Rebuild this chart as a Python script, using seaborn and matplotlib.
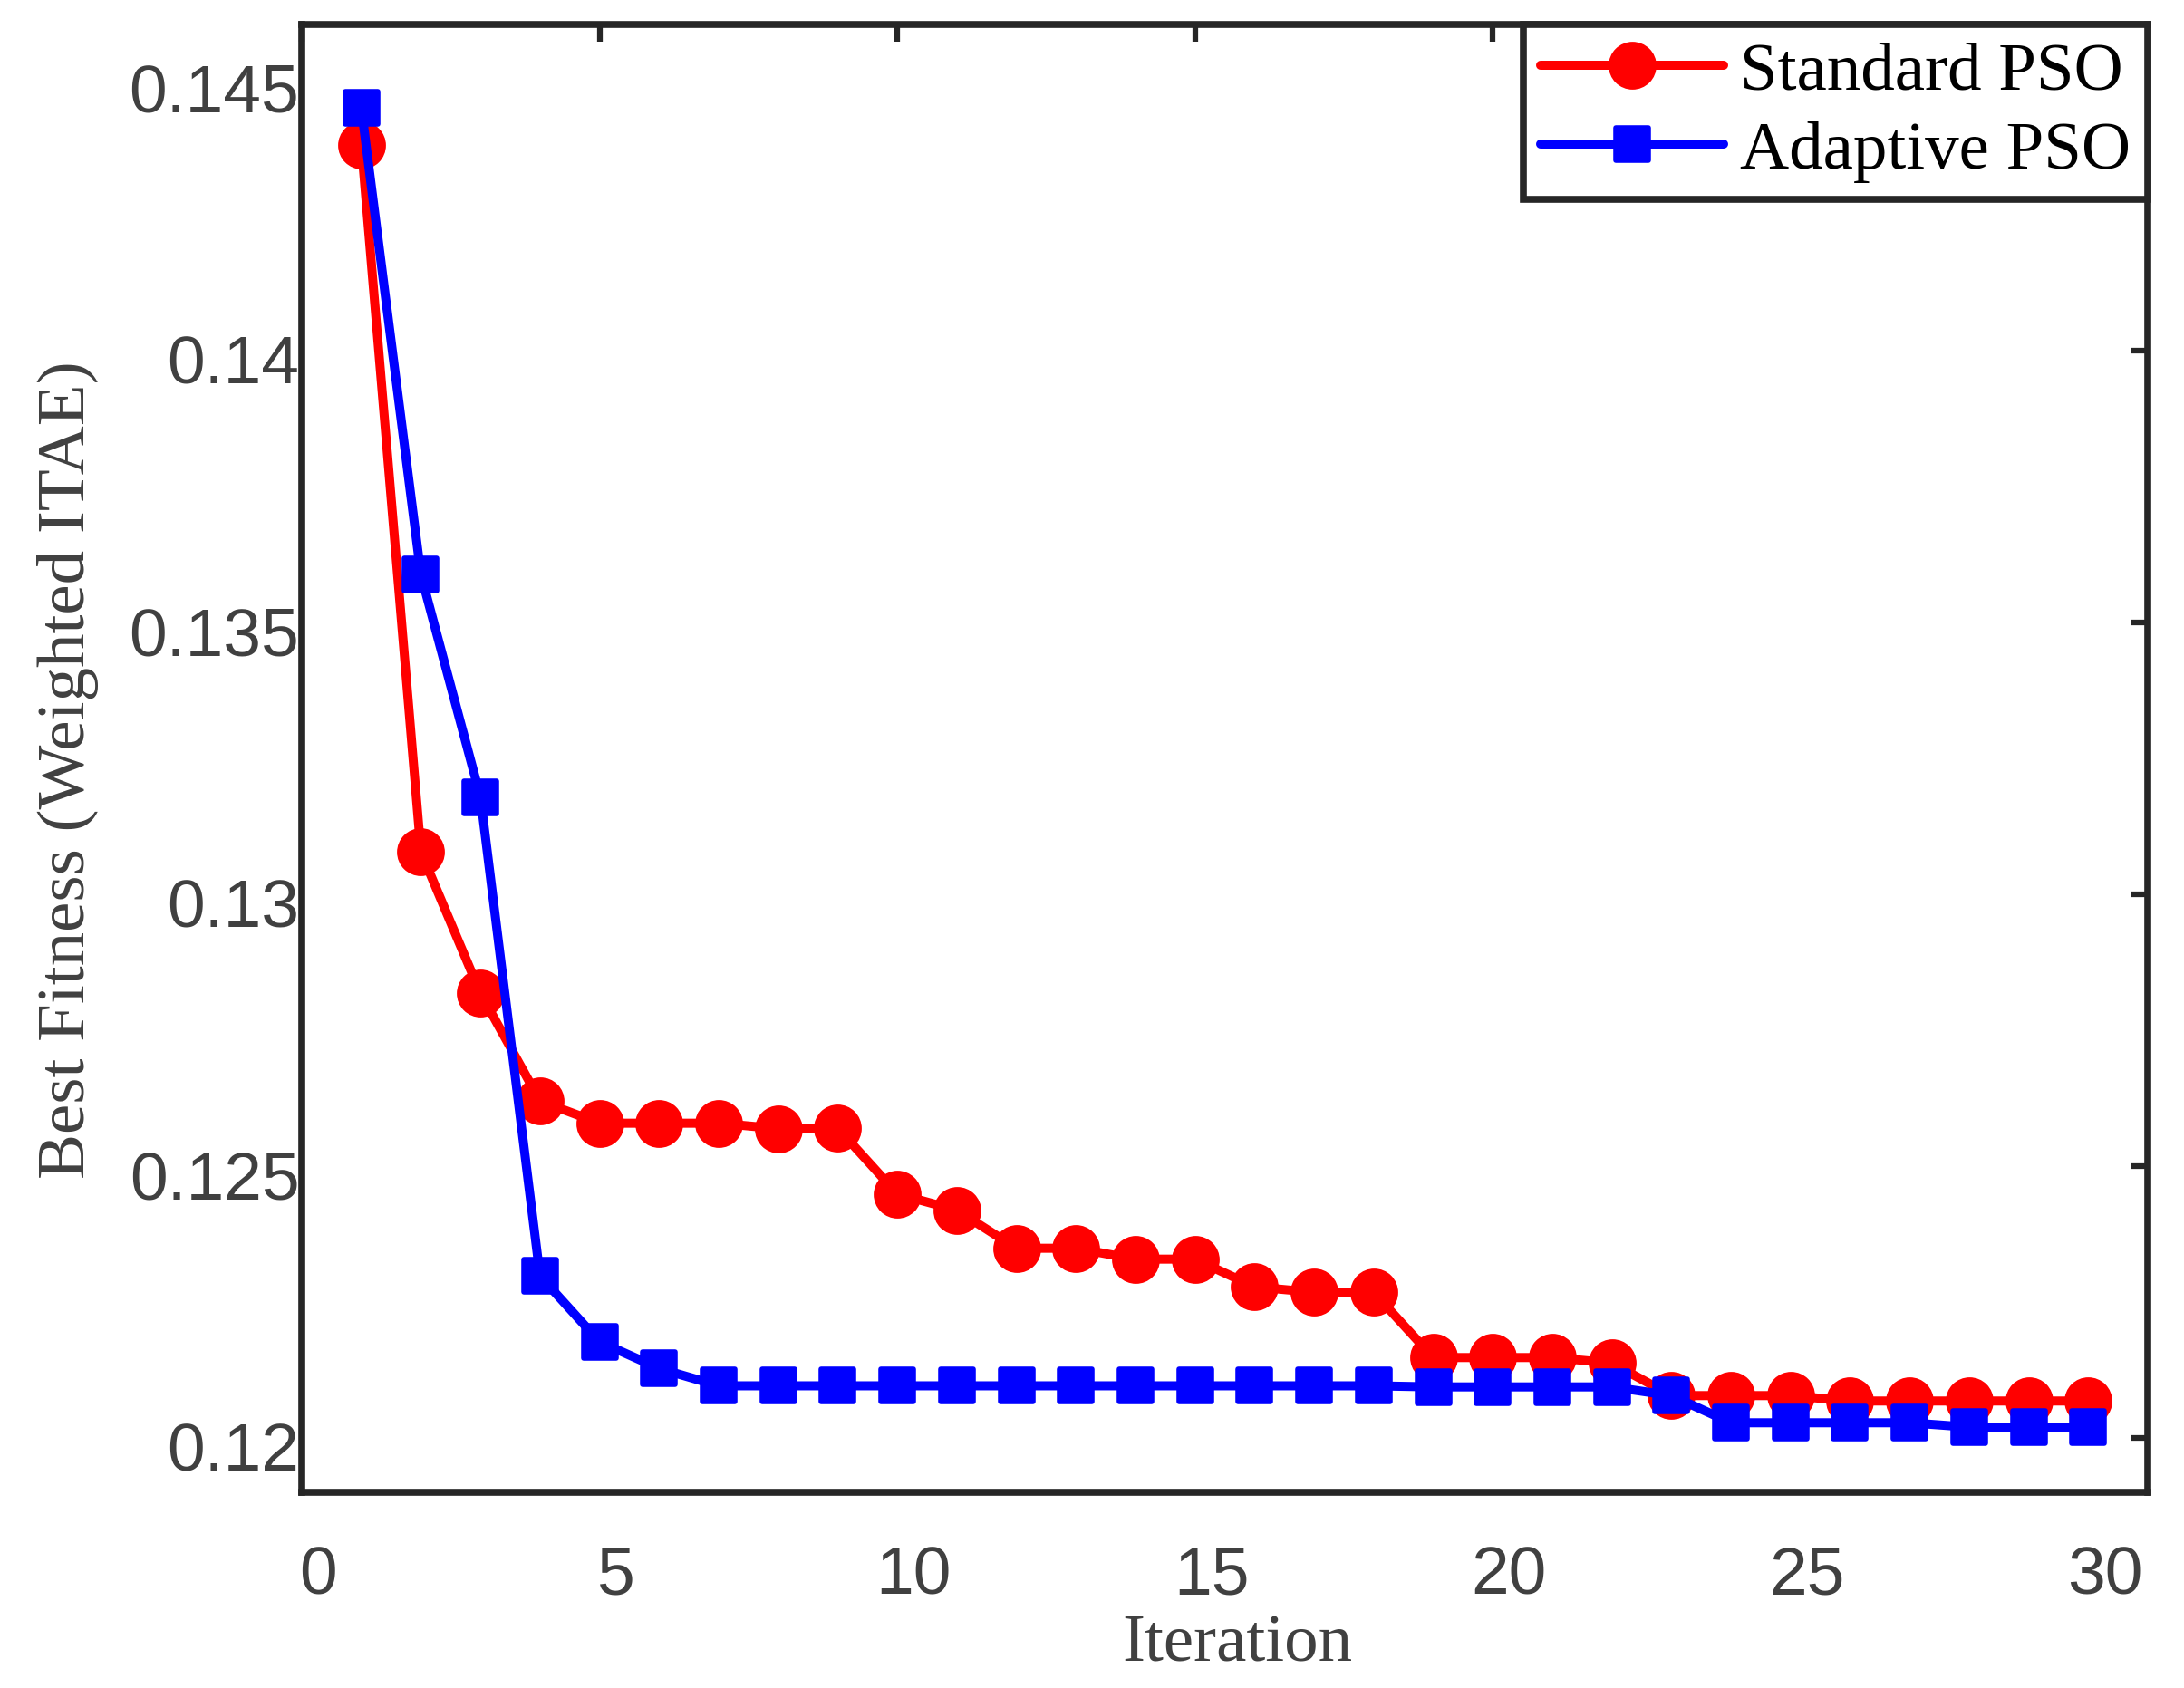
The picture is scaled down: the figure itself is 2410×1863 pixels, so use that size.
import matplotlib
matplotlib.use("Agg")
import matplotlib.pyplot as plt
from matplotlib.markers import MarkerStyle
from matplotlib.transforms import ScaledTranslation
import seaborn as sns

# ---------------- data ----------------
iterations = list(range(1, 31))
standard_pso = [0.14379, 0.13078, 0.12818, 0.12620, 0.12579, 0.12579, 0.12579,
                0.12569, 0.12570, 0.12449, 0.12419, 0.12349, 0.12349, 0.12329,
                0.12329, 0.12278, 0.12268, 0.12268, 0.12148, 0.12148, 0.12148,
                0.12138, 0.12078, 0.12078, 0.12078, 0.12068, 0.12068, 0.12068,
                0.12068, 0.12068]
adaptive_pso = [0.14446, 0.13588, 0.13179, 0.12298, 0.12177, 0.12128, 0.12096,
                0.12096, 0.12096, 0.12096, 0.12096, 0.12096, 0.12096, 0.12096,
                0.12096, 0.12096, 0.12096, 0.12096, 0.12094, 0.12094, 0.12094,
                0.12094, 0.12078, 0.12028, 0.12028, 0.12028, 0.12028, 0.12020,
                0.12020, 0.12020]
series_names = ["Standard PSO", "Adaptive PSO"]
x_ticks = [0, 5, 10, 15, 20, 25, 30]
y_ticks = [0.12, 0.125, 0.13, 0.135, 0.14, 0.145]
y_tick_labels = ["0.12", "0.125", "0.13", "0.135", "0.14", "0.145"]
x_label = "Iteration"
y_label = "Best Fitness (Weighted ITAE)"

# ---------------- style ----------------
sns.set_theme(style="white")
plt.rcParams["font.family"] = ["Liberation Sans", "DejaVu Sans"]

AX_COL = "#262626"
LBL_COL = "#404040"
FS = 54

fig, ax = plt.subplots(figsize=(24.1, 18.63), dpi=100)
fig.subplots_adjust(left=0.1382, right=0.9834, bottom=0.1159, top=0.9855)

sns.lineplot(x=iterations, y=standard_pso, ax=ax, color="#FF0000",
             linewidth=7.2, marker="o", markersize=36, markeredgewidth=2,
             markeredgecolor="#FF0000", label=series_names[0])
sq = MarkerStyle("s", joinstyle="round")
sns.lineplot(x=iterations, y=adaptive_pso, ax=ax, color="#0000FF",
             linewidth=7.2, marker=sq, markersize=26, markeredgewidth=4,
             markeredgecolor="#0000FF", label=series_names[1])

ax.set_xlim(0, 31)
ax.set_ylim(0.119, 0.146)
ax.set_xticks(x_ticks)
ax.set_xticklabels([str(v) for v in x_ticks])
ax.set_yticks(y_ticks)
ax.set_yticklabels(y_tick_labels)

for s in ax.spines.values():
    s.set_linewidth(5.5)
    s.set_color(AX_COL)

ax.tick_params(axis="both", which="major", direction="in", length=14,
               width=4.5, color=AX_COL, labelcolor=LBL_COL, labelsize=FS,
               top=True, right=True, labeltop=False, labelright=False)
ax.tick_params(axis="x", pad=42)
ax.tick_params(axis="y", pad=2)

for lbl in ax.get_xticklabels() + ax.get_yticklabels():
    lbl.set_family(["Liberation Sans", "DejaVu Sans"])

ax.set_xlabel(x_label, fontsize=FS, family="Liberation Serif", color=LBL_COL)
ax.xaxis.set_label_coords(0.507, -0.1148)
ax.xaxis.label.set_va("baseline")
ax.set_ylabel(y_label, fontsize=FS, family="Liberation Serif", color=LBL_COL)
ax.yaxis.set_label_coords(-0.1178, 0.492)
ax.yaxis.label.set_va("baseline")

leg = ax.legend(loc="upper right", borderaxespad=0,
                prop={"family": "Liberation Serif", "size": FS},
                handlelength=2.7, handletextpad=0.24, borderpad=0.25,
                labelspacing=0.25, fancybox=False, framealpha=1,
                edgecolor=AX_COL, facecolor="white")
leg.get_frame().set_linewidth(5.5)
for t in leg.get_texts():
    t.set_color("black")

# small MATLAB-like offset of tick labels
for lbl in ax.get_xticklabels():
    lbl.set_transform(lbl.get_transform() +
                      ScaledTranslation(13 / 72, 0, fig.dpi_scale_trans))
for lbl in ax.get_yticklabels():
    lbl.set_transform(lbl.get_transform() +
                      ScaledTranslation(0, -7 / 72, fig.dpi_scale_trans))

fig.savefig("out.png", dpi=100, facecolor="white")
